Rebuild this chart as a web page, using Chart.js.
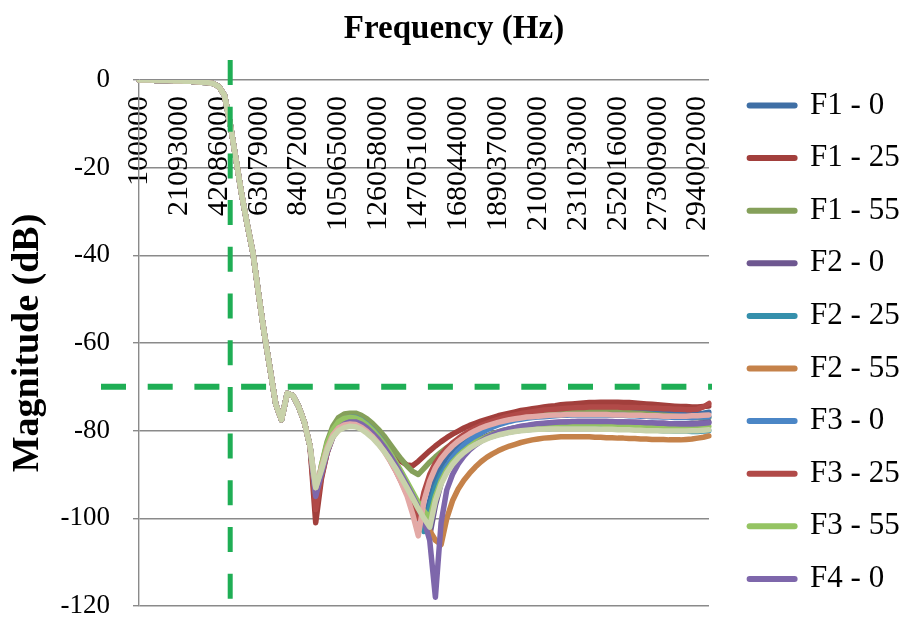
<!DOCTYPE html>
<html>
<head>
<meta charset="utf-8">
<script src="https://cdn.jsdelivr.net/npm/chart.js@4.4.1/dist/chart.umd.min.js"></script>
<style>
  html, body { margin: 0; padding: 0; background: #fff; }
  canvas { display: block; }
</style>
</head>
<body>
<canvas id="chart" width="908" height="619"></canvas>
<script>
// frequency points (Hz), 101 steps of 2999000
const freqs = [
  100000, 3099000, 6098000, 9097000, 12096000, 15095000, 18094000, 21093000, 24092000, 27091000,
  30090000, 33089000, 36088000, 39087000, 42086000, 45085000, 48084000, 51083000, 54082000, 57081000,
  60080000, 63079000, 66078000, 69077000, 72076000, 75075000, 78074000, 81073000, 84072000, 87071000,
  90070000, 93069000, 96068000, 99067000, 102066000, 105065000, 108064000, 111063000, 114062000, 117061000,
  120060000, 123059000, 126058000, 129057000, 132056000, 135055000, 138054000, 141053000, 144052000, 147051000,
  150050000, 153049000, 156048000, 159047000, 162046000, 165045000, 168044000, 171043000, 174042000, 177041000,
  180040000, 183039000, 186038000, 189037000, 192036000, 195035000, 198034000, 201033000, 204032000, 207031000,
  210030000, 213029000, 216028000, 219027000, 222026000, 225025000, 228024000, 231023000, 234022000, 237021000,
  240020000, 243019000, 246018000, 249017000, 252016000, 255015000, 258014000, 261013000, 264012000, 267011000,
  270010000, 273009000, 276008000, 279007000, 282006000, 285005000, 288004000, 291003000, 294002000, 297001000,
  300000000
];

// labels Excel printed on the category axis
const shownTicks = [
  100000, 21093000, 42086000, 63079000, 84072000, 105065000, 126058000, 147051000,
  168044000, 189037000, 210030000, 231023000, 252016000, 273009000, 294002000
];

// guide lines drawn over the plot
const cutoffFreq = 48084000;
const limitDb = -70;

// passband + first notch, all filters overlap here (points 0..30)
const head = [
  0, 0, 0, -0.1, -0.1, -0.1, -0.2, -0.2, -0.3, -0.3,
  -0.4, -0.5, -0.6, -0.8, -1.5, -3.5, -10, -18, -26, -33,
  -39.5, -49, -58, -66, -74, -77.5, -71.5, -72, -74.5, -78, -83.5
];

// points 31..100 for each measurement
const f1_0 = [
  -95, -89, -84, -80.5, -78.5, -77.5, -77, -77, -77.5, -78.5,
  -79.5, -81, -83, -85, -87.5, -90, -92.5, -95.5, -98.5, -101,
  -96, -91, -88, -86, -84.5, -83.3, -82.3, -81.5, -80.7, -80,
  -79.4, -78.9, -78.4, -78, -77.6, -77.3, -77, -76.8, -76.6, -76.4,
  -76.2, -76.1, -76, -75.9, -75.8, -75.7, -75.6, -75.6, -75.5, -75.5,
  -75.5, -75.5, -75.5, -75.6, -75.6, -75.7, -75.7, -75.8, -75.8, -75.9,
  -75.9, -76, -76, -76, -76.1, -76.1, -76.2, -76.1, -76, -75.8
];
const f1_25 = [
  -101, -91, -85, -81, -79, -78, -77.5, -77.5, -78, -79,
  -80, -81.5, -83, -84.5, -86, -87, -87.8, -88, -87, -85.8,
  -84.6, -83.5, -82.5, -81.6, -80.8, -80.1, -79.4, -78.8, -78.3, -77.8,
  -77.4, -77, -76.6, -76.3, -76, -75.7, -75.4, -75.2, -75, -74.8,
  -74.6, -74.4, -74.3, -74.1, -74, -73.9, -73.8, -73.7, -73.6, -73.6,
  -73.5, -73.5, -73.5, -73.5, -73.6, -73.6, -73.7, -73.8, -73.9, -74,
  -74.1, -74.2, -74.3, -74.4, -74.5, -74.5, -74.6, -74.6, -74.5, -74.4
];
const f1_55 = [
  -95, -88, -82.5, -79, -77, -76.2, -76, -76, -76.5, -77.3,
  -78.4, -79.7, -81.2, -83, -84.8, -86.5, -88, -89.3, -90, -88.6,
  -87.2, -86, -84.9, -83.9, -83, -82.2, -81.4, -80.7, -80.1, -79.5,
  -79, -78.5, -78.1, -77.7, -77.4, -77.1, -76.8, -76.6, -76.4, -76.2,
  -76, -75.9, -75.8, -75.7, -75.6, -75.5, -75.5, -75.5, -75.5, -75.5,
  -75.5, -75.6, -75.6, -75.7, -75.8, -75.9, -76, -76.1, -76.2, -76.3,
  -76.4, -76.5, -76.6, -76.7, -76.8, -76.9, -77, -77, -77.1, -77
];
const f2_0 = [
  -94, -89, -84, -80.5, -78.7, -77.8, -77.5, -77.5, -78, -79,
  -80.2, -81.7, -83.5, -85.5, -87.7, -90, -92.5, -95, -97.8, -100.8,
  -104, -97, -92, -89, -87, -85.5, -84.3, -83.3, -82.5, -81.8,
  -81.2, -80.7, -80.3, -79.9, -79.6, -79.3, -79.1, -78.9, -78.7, -78.5,
  -78.4, -78.3, -78.2, -78.1, -78, -78, -77.9, -77.9, -77.9, -77.9,
  -77.9, -77.9, -78, -78, -78, -78.1, -78.1, -78.2, -78.2, -78.3,
  -78.3, -78.3, -78.4, -78.4, -78.4, -78.4, -78.3, -78.3, -78.2, -78
];
const f2_25 = [
  -95, -89.5, -84.5, -81, -79.2, -78.3, -78, -78, -78.5, -79.4,
  -80.5, -82, -83.8, -85.8, -88, -90.5, -93.2, -96.2, -99.5, -103,
  -97.5, -93, -90, -88, -86.5, -85.3, -84.3, -83.5, -82.8, -82.2,
  -81.7, -81.3, -80.9, -80.6, -80.3, -80.1, -79.9, -79.8, -79.7, -79.6,
  -79.5, -79.5, -79.4, -79.4, -79.4, -79.4, -79.4, -79.4, -79.4, -79.4,
  -79.5, -79.5, -79.5, -79.6, -79.6, -79.7, -79.7, -79.8, -79.8, -79.9,
  -79.9, -80, -80, -80.1, -80.1, -80.1, -80.2, -80.2, -80.1, -80
];
const f2_55 = [
  -95, -90, -85, -81.5, -79.6, -78.8, -78.5, -78.5, -79, -79.9,
  -81, -82.4, -84.1, -86, -88.1, -90.4, -92.8, -95.3, -97.8, -100.3,
  -102.8, -105, -106, -100, -96, -93.3, -91.3, -89.7, -88.3, -87.1,
  -86.1, -85.3, -84.6, -84, -83.5, -83.1, -82.7, -82.4, -82.1, -81.9,
  -81.7, -81.6, -81.5, -81.4, -81.4, -81.4, -81.4, -81.4, -81.4, -81.5,
  -81.5, -81.6, -81.6, -81.7, -81.7, -81.8, -81.8, -81.9, -81.9, -82,
  -82, -82, -82.1, -82.1, -82.1, -82, -81.9, -81.7, -81.5, -81.2
];
const f3_0 = [
  -94, -88.5, -83.5, -80.2, -78.3, -77.3, -77, -77, -77.6, -78.6,
  -79.8, -81.3, -83.1, -85.1, -87.3, -89.6, -92, -94.5, -97, -99.5,
  -102, -95.5, -91, -88.2, -86.2, -84.6, -83.3, -82.2, -81.3, -80.5,
  -79.8, -79.2, -78.7, -78.3, -77.9, -77.6, -77.4, -77.2, -77, -76.9,
  -76.8, -76.7, -76.6, -76.5, -76.5, -76.4, -76.4, -76.4, -76.4, -76.4,
  -76.4, -76.4, -76.5, -76.5, -76.5, -76.6, -76.6, -76.7, -76.7, -76.8,
  -76.8, -76.9, -76.9, -77, -77, -77, -77, -76.9, -76.9, -76.8
];
const f3_25 = [
  -98, -90.5, -85, -81.3, -79.3, -78.4, -78, -78, -78.6, -79.6,
  -80.9, -82.5, -84.4, -86.6, -89, -91.6, -94.4, -97.2, -100, -94,
  -90, -87.4, -85.5, -84, -82.8, -81.8, -80.9, -80.1, -79.4, -78.8,
  -78.3, -77.8, -77.4, -77, -76.7, -76.4, -76.1, -75.9, -75.7, -75.5,
  -75.3, -75.2, -75.1, -75, -74.9, -74.8, -74.7, -74.7, -74.6, -74.6,
  -74.6, -74.6, -74.6, -74.6, -74.7, -74.7, -74.7, -74.8, -74.8, -74.9,
  -74.9, -75, -75, -75.1, -75.1, -75.2, -75.2, -75.1, -74.6, -73.8
];
const f3_55 = [
  -94.5, -88, -83, -79.8, -78, -77.2, -77, -77.1, -77.7, -78.7,
  -79.9, -81.4, -83.1, -85, -87.1, -89.3, -91.6, -94, -96.4, -98.4,
  -100, -95, -91.5, -89, -87.2, -85.8, -84.6, -83.6, -82.7, -82,
  -81.4, -80.8, -80.4, -80, -79.7, -79.4, -79.2, -79, -78.9, -78.8,
  -78.7, -78.6, -78.6, -78.5, -78.5, -78.5, -78.5, -78.5, -78.5, -78.5,
  -78.5, -78.6, -78.6, -78.6, -78.7, -78.7, -78.8, -78.8, -78.9, -78.9,
  -79, -79, -79.1, -79.1, -79.2, -79.2, -79.2, -79.2, -79.1, -79
];
const f4_0 = [
  -95, -90, -85, -81.5, -79.5, -78.5, -78, -78, -78.5, -79.4,
  -80.6, -82, -83.7, -85.6, -87.7, -90, -92.4, -94.9, -97.5, -100.5,
  -105, -118, -101, -93.5, -90, -87.6, -85.8, -84.4, -83.3, -82.4,
  -81.6, -81, -80.4, -80, -79.6, -79.3, -79, -78.8, -78.6, -78.4,
  -78.3, -78.2, -78.1, -78, -78, -77.9, -77.9, -77.9, -77.9, -77.9,
  -77.9, -77.9, -77.9, -78, -78, -78, -78.1, -78.1, -78.2, -78.2,
  -78.3, -78.3, -78.4, -78.4, -78.5, -78.5, -78.5, -78.4, -78.3, -78.2
];
// two more traces are plotted but Excel's legend ran out of room for them
const f4_25 = [
  -93, -88.5, -84, -81, -79.4, -78.7, -78.5, -78.6, -79.2, -80.2,
  -81.4, -82.9, -84.7, -86.8, -89.1, -91.8, -94.8, -99, -104, -96,
  -91.5, -88.5, -86.4, -84.8, -83.5, -82.4, -81.5, -80.7, -80, -79.4,
  -78.9, -78.5, -78.1, -77.8, -77.5, -77.3, -77.1, -76.9, -76.8, -76.7,
  -76.6, -76.5, -76.4, -76.4, -76.3, -76.3, -76.3, -76.3, -76.3, -76.3,
  -76.3, -76.3, -76.4, -76.4, -76.4, -76.5, -76.5, -76.5, -76.6, -76.6,
  -76.6, -76.7, -76.7, -76.7, -76.7, -76.7, -76.6, -76.6, -76.5, -76.4
];
const f4_55 = [
  -93, -89, -84.5, -81.5, -80, -79.3, -79, -79.1, -79.7, -80.6,
  -81.7, -83.1, -84.7, -86.5, -88.5, -90.7, -93, -95.4, -97.8, -100,
  -102, -96, -92.2, -89.6, -87.7, -86.2, -85, -84, -83.2, -82.5,
  -81.9, -81.4, -81, -80.7, -80.4, -80.2, -80, -79.9, -79.8, -79.7,
  -79.7, -79.6, -79.6, -79.6, -79.6, -79.6, -79.6, -79.6, -79.6, -79.6,
  -79.7, -79.7, -79.7, -79.8, -79.8, -79.8, -79.9, -79.9, -80, -80,
  -80, -80.1, -80.1, -80.1, -80.1, -80.1, -80, -80, -79.9, -79.8
];

const seriesNames = ['F1 - 0', 'F1 - 25', 'F1 - 55', 'F2 - 0', 'F2 - 25', 'F2 - 55',
  'F3 - 0', 'F3 - 25', 'F3 - 55', 'F4 - 0', 'F4 - 25', 'F4 - 55'];
const seriesTails = [f1_0, f1_25, f1_55, f2_0, f2_25, f2_55, f3_0, f3_25, f3_55, f4_0, f4_25, f4_55];
const seriesColors = ['#3f6fa5', '#a23f3c', '#85a05a', '#6e5790', '#3590ac', '#c5824a',
  '#4b86c6', '#b14a48', '#95c463', '#7e67ab', '#e3a9a6', '#c8d2aa'];
const legendCount = 10;

Chart.defaults.font.family = '"Times New Roman", "Liberation Serif", serif';
Chart.defaults.color = '#000';

// dashed green markers (cut-off frequency and -70 dB limit)
const guideLines = {
  id: 'guideLines',
  afterDatasetsDraw(chart) {
    const { ctx, chartArea, scales } = chart;
    const x = scales.x.getPixelForValue(freqs.indexOf(cutoffFreq));
    const y = scales.y.getPixelForValue(limitDb);
    ctx.save();
    ctx.strokeStyle = '#1fae55';
    ctx.setLineDash([25, 21.7]);
    ctx.lineWidth = 5;
    ctx.beginPath();
    ctx.moveTo(x, chartArea.top - 20);
    ctx.lineTo(x, chartArea.bottom + 12);
    ctx.stroke();
    ctx.lineWidth = 6;
    ctx.beginPath();
    ctx.moveTo(chartArea.left - 38, y);
    ctx.lineTo(chartArea.right + 3, y);
    ctx.stroke();
    ctx.restore();
  }
};

// Excel leaves a gap between plot and legend; push the legend right
const legendGap = {
  id: 'legendGap',
  afterLayout(chart) {
    chart.legend.left += 19;
    chart.legend.right += 19;
  }
};

const ctx = document.getElementById('chart').getContext('2d');
new Chart(ctx, {
  type: 'line',
  data: {
    labels: freqs,
    datasets: seriesNames.map((name, i) => ({
      label: name,
      data: head.concat(seriesTails[i]),
      borderColor: seriesColors[i],
      backgroundColor: seriesColors[i],
      borderWidth: 5.5,
      borderJoinStyle: 'round',
      borderCapStyle: 'round',
      pointRadius: 0,
      pointStyle: 'line',
      fill: false,
      tension: 0,
      order: seriesNames.length - i  // later series on top, like Excel
    }))
  },
  options: {
    responsive: false,
    animation: false,
    devicePixelRatio: 1,
    layout: { padding: { left: 0, right: 0, top: 0, bottom: 3 } },
    plugins: {
      title: {
        display: true,
        text: 'Frequency (Hz)',
        font: { size: 33, weight: 'bold' },
        padding: { top: 10, bottom: 30.4 }
      },
      legend: {
        position: 'right',
        align: 'end',
        labels: {
          usePointStyle: true,
          pointStyle: 'line',
          pointStyleWidth: 45,
          padding: 21.6,
          font: { size: 31 },
          color: '#000',
          generateLabels: (chart) =>
            Chart.defaults.plugins.legend.labels.generateLabels(chart)
              .filter((it) => it.datasetIndex < legendCount)
              .sort((a, b) => a.datasetIndex - b.datasetIndex)
              .map((it) => Object.assign(it, { lineWidth: 6, lineCap: 'round' }))
        }
      },
      tooltip: { enabled: false }
    },
    scales: {
      x: {
        type: 'category',
        position: { y: 0 },
        grid: { display: false, drawTicks: false },
        border: { display: false },
        afterFit: (scale) => { scale.paddingLeft = 0; scale.paddingRight = 199; },
        ticks: {
          autoSkip: false,
          maxRotation: 90,
          minRotation: 90,
          padding: 16,
          font: { size: 30 },
          callback: (value, index) => (shownTicks.includes(freqs[index]) ? String(freqs[index]) : '')
        }
      },
      y: {
        min: -120,
        max: 0,
        position: 'left',
        afterFit: (scale) => { scale.width = 139; scale.paddingTop = 0; scale.paddingBottom = 13; },
        ticks: {
          stepSize: 20,
          padding: 23,
          font: { size: 27, lineHeight: 1 }
        },
        grid: { color: '#8a8a8a', lineWidth: 1.4, tickLength: 6 },
        border: { color: '#8a8a8a', width: 1.4 },
        title: {
          display: true,
          text: 'Magnitude (dB)',
          font: { size: 38, weight: 'bold', lineHeight: 1 },
          padding: { top: 9, bottom: 0 }
        }
      }
    }
  },
  plugins: [guideLines, legendGap]
});
</script>
</body>
</html>
